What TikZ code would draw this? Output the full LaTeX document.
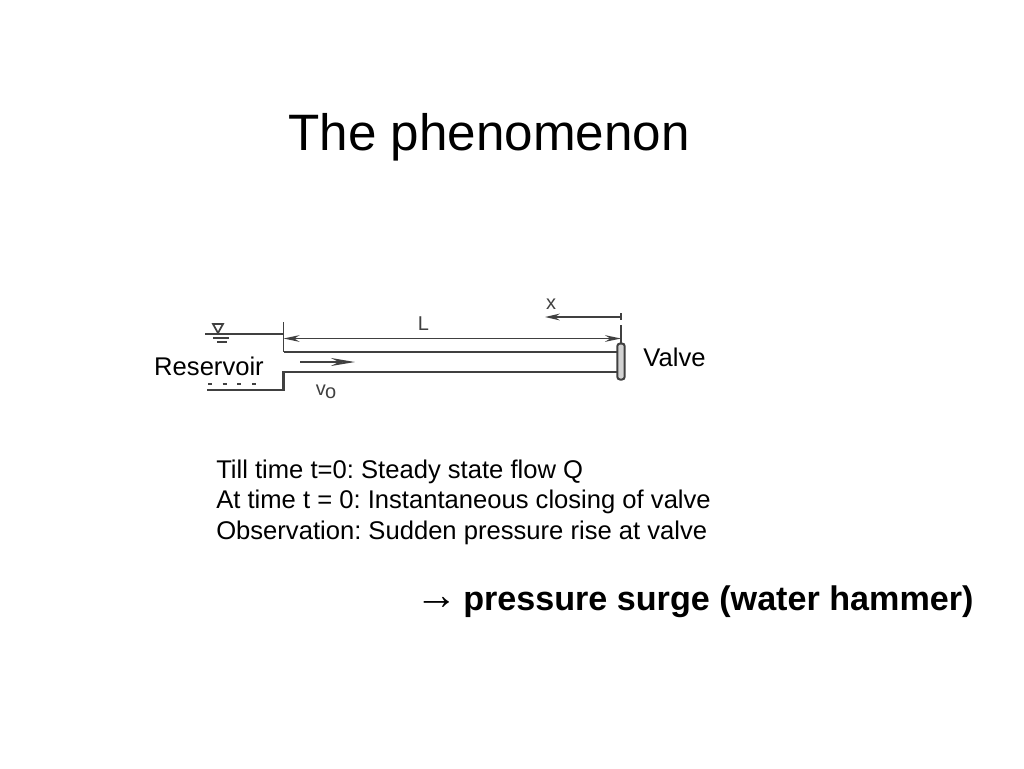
\documentclass[tikz,border=0pt]{standalone}
\usepackage{fontspec}
\setmainfont{Liberation Sans}
\usetikzlibrary{arrows.meta}
\definecolor{inkgray}{gray}{0.25}
\tikzset{
    pipeline/.style={draw=inkgray,line width=1.8pt},
    thinline/.style={draw=inkgray,line width=1.3pt},
    sketchlabel/.style={inner sep=0pt,text=inkgray,font=\fontsize{15}{17}\selectfont},
    bodytext/.style={inner sep=0pt,font=\fontsize{19.2}{23}\selectfont},
}
\frenchspacing
\begin{document}
\begin{tikzpicture}[x=0.75pt,y=-0.75pt]
    \useasboundingbox (0,0) rectangle (1024,768);
    \node[inner sep=0pt,font=\fontsize{38.4}{44}\selectfont] (title) at (489,137) {The phenomenon};

    % reservoir and pipe
    \coordinate (levelend) at (205,334);
    \coordinate (walltop) at (283.5,322);
    \coordinate (wallupper) at (283.5,352);
    \coordinate (walllevel) at (283.5,334);
    \coordinate (walllower) at (283.5,372);
    \coordinate (wallbottom) at (283.5,390);
    \coordinate (bottomend) at (207,390);
    \draw[pipeline] (levelend) -- (walllevel);
    \draw[thinline] (walltop) -- (wallupper);
    \draw[pipeline] (wallupper) -- (618,352);
    \draw[pipeline] (618,372) -- (walllower) -- (wallbottom) -- (bottomend);
    \draw[thinline,dash pattern=on 3pt off 8pt] (208,384) -- (262,384);

    % water level mark
    \draw[thinline] (213,324) -- (223,324) -- (218,333) -- cycle;
    \draw[thinline] (213,338) -- (229,338);
    \draw[thinline] (217,342) -- (227,342);

    % valve
    \node[draw=inkgray,line width=1.5pt,fill=gray!35,rounded corners=2pt,minimum width=5.5pt,minimum height=27pt,inner sep=0pt] (valvebar) at (621,361.5) {};

    % dimensions
    \coordinate (lstart) at (283.5,338.5);
    \coordinate (lend) at (621,338.5);
    \coordinate (xstart) at (621,317);
    \coordinate (xend) at (545,317);
    \draw[thinline,{Stealth[length=12pt,width=5pt]}-{Stealth[length=12pt,width=5pt]}] (lstart) -- (lend);
    \draw[thinline,-{Stealth[length=11pt,width=5pt]}] (xstart) -- (xend);
    \draw[thinline] (621,313) -- (621,320);
    \draw[thinline] (621,325) -- (valvebar.north);

    % flow arrow
    \coordinate (flowstart) at (300,362);
    \coordinate (flowend) at (355,362);
    \draw[thinline,-{Stealth[length=18pt,width=6pt,open,fill=white]}] (flowstart) -- (flowend);

    \node[sketchlabel] (lengthlabel) at (423.5,324) {L};
    \node[sketchlabel] (xlabel) at (551,304) {x};
    \node[sketchlabel] (speedlabel) at (326,392) {v\kern-0.5pt\raisebox{-2pt}{o}};

    \node[inner sep=0pt,fill=white,font=\fontsize{19.2}{23}\selectfont] (reservoir) at (209,366) {Reservoir};
    \node[inner sep=0pt,font=\fontsize{19.2}{23}\selectfont] (valve) at (674.5,357) {Valve};

    \node[bodytext,anchor=base west] (line1) at (216,478) {Till time t=0: Steady state flow Q};
    \node[bodytext,anchor=base west] (line2) at (216,508.5) {At time t = 0: Instantaneous closing of valve};
    \node[bodytext,anchor=base west] (line3) at (216,539.5) {Observation: Sudden pressure rise at valve};
    \node[inner sep=0pt,anchor=base west,font=\fontsize{25.6}{30}\bfseries\selectfont] (surge) at (463,610) {pressure surge (water hammer)};
    \node[inner sep=0pt,anchor=base east,font=\fontsize{32}{36}\selectfont] (surgearrow) at (458,609) {→};
\end{tikzpicture}
\end{document}
